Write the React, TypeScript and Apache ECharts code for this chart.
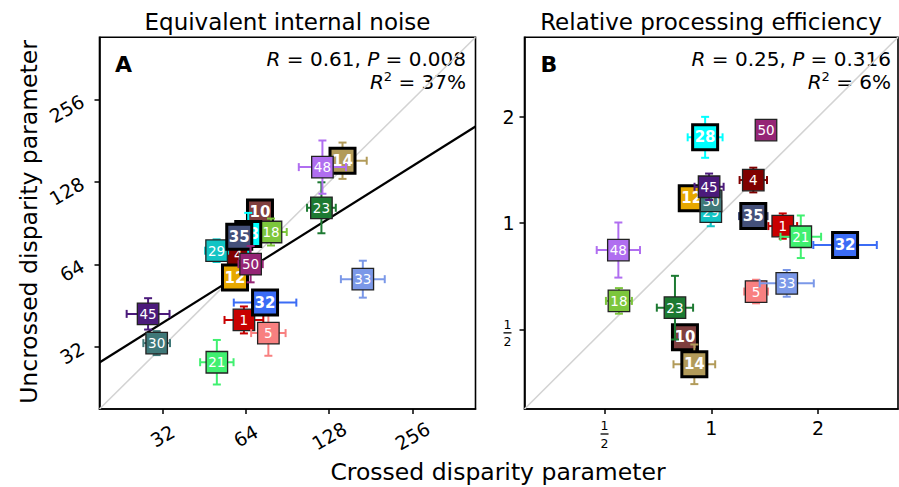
import React, { useEffect, useRef } from 'react';
import * as echarts from 'echarts';

const FONT = 'DejaVu Sans';

// Subjects (labels), colours and which ones are drawn bold/large
const subjects = [1, 4, 5, 10, 12, 14, 18, 21, 23, 28, 29, 30, 32, 33, 35, 45, 48, 50];
const boldSubjects = [10, 12, 14, 28, 32, 35];
const colors = [
  '#c80000', '#800000', '#f88080', '#7f3f3f', '#e6a800', '#b29b5a',
  '#7cc63c', '#40f070', '#1d7a32', '#00ffff', '#12c4c4', '#3f7878',
  '#3b6cf5', '#7b98e8', '#44507a', '#4b1a7b', '#b06ef0', '#952575',
];

// Panel A: equivalent internal noise (crossed = x, uncrossed = y)
const noiseX = [63.0, 60.1, 77.2, 72.0, 58.5, 143, 78.9, 50.3, 120, 65.3, 50.2, 30.5, 75.1, 169.3, 60.6, 28.4, 121, 66.6];
const noiseY = [40.1, 69.3, 35.9, 99, 57.3, 153, 84, 28.1, 103, 82.7, 71.8, 33.0, 46.4, 56.5, 80.8, 42.2, 145, 64.1];
// multiplicative (geometric) error factors
const noiseXErr = [1.175, 1.1, 1.154, 1.1, 1.1, 1.223, 1.14, 1.149, 1.127, 1.1, 1.1, 1.117, 1.297, 1.2, 1.1, 1.195, 1.217, 1.106];
const noiseYErr = [1.12, 1.1, 1.21, 1.1, 1.1, 1.165, 1.12, 1.206, 1.239, 1.193, 1.1, 1.106, 1.1, 1.168, 1.1, 1.141, 1.251, 1.165];

// Panel B: relative processing efficiency
const effX = [1.591, 1.314, 1.338, 0.843, 0.881, 0.896, 0.549, 1.789, 0.79, 0.961, 0.997, 0.999, 2.385, 1.633, 1.314, 0.986, 0.547, 1.427];
const effY = [0.981, 1.325, 0.64, 0.475, 1.176, 0.398, 0.602, 0.915, 0.576, 1.751, 1.078, 1.156, 0.867, 0.675, 1.047, 1.268, 0.839, 1.836];
const effXErr = [1.098, 1.093, 1.08, 1.06, 1.06, 1.145, 1.088, 1.141, 1.125, 1.12, 1.06, 1.06, 1.229, 1.192, 1.097, 1.099, 1.151, 1.04];
const effYErr = [1.086, 1.084, 1.08, 1.06, 1.06, 1.138, 1.087, 1.149, 1.231, 1.143, 1.1, 1.06, 1.06, 1.091, 1.06, 1.09, 1.197, 1.04];

// Axis ranges (log2 units) and ticks
const noiseRange = [4.245, 8.755];
const effRange = [-1.75, 1.75];
const noiseTicks = [32, 64, 128, 256];
const effTicks = [0.5, 1, 2];

// Regression line of panel A in log2 space: log2(y) = a + b*log2(x)
const regIntercept = 2.113;
const regSlope = 0.635;

const statsA = { r: '0.61', p: '0.008', r2: '37%' };
const statsB = { r: '0.25', p: '0.316', r2: '6%' };

function pointSeries(idx: number, xs: number[], ys: number[], xe: number[], ye: number[]) {
  return {
    type: 'custom',
    xAxisIndex: idx,
    yAxisIndex: idx,
    z: 3,
    clip: false,
    silent: true,
    data: subjects.map((s, i) => [Math.log2(xs[i]), Math.log2(ys[i]), Math.log2(xe[i]), Math.log2(ye[i]), i]),
    renderItem: (params: any, api: any) => {
      const vx = api.value(0);
      const vy = api.value(1);
      const ex = api.value(2);
      const ey = api.value(3);
      const i = api.value(4);
      const c = api.coord([vx, vy]);
      const l = api.coord([vx - ex, vy])[0];
      const r = api.coord([vx + ex, vy])[0];
      const t = api.coord([vx, vy + ey])[1];
      const b = api.coord([vx, vy - ey])[1];
      const col = colors[i];
      const big = boldSubjects.includes(subjects[i]);
      const cap = 4;
      const ln = (x1: number, y1: number, x2: number, y2: number) => ({
        type: 'line',
        shape: { x1, y1, x2, y2 },
        style: { stroke: col, lineWidth: 2 },
      });
      const s = big ? 25 : 21.5;
      return {
        type: 'group',
        children: [
          ln(l, c[1], r, c[1]),
          ln(c[0], t, c[0], b),
          ln(l, c[1] - cap, l, c[1] + cap),
          ln(r, c[1] - cap, r, c[1] + cap),
          ln(c[0] - cap, t, c[0] + cap, t),
          ln(c[0] - cap, b, c[0] + cap, b),
          {
            type: 'rect',
            shape: { x: c[0] - s / 2, y: c[1] - s / 2, width: s, height: s },
            style: { fill: col, stroke: big ? '#000' : '#222', lineWidth: big ? 3 : 1.3 },
          },
          {
            type: 'text',
            style: {
              text: String(subjects[i]),
              x: c[0],
              y: c[1],
              fill: '#fff',
              align: 'center',
              verticalAlign: 'middle',
              fontSize: big ? 15 : 13.5,
              fontWeight: big ? 'bold' : 'normal',
              fontFamily: FONT,
            },
          },
        ],
      };
    },
  };
}

const isHalf = (v: number) => Math.abs(Math.pow(2, v) - 0.5) < 1e-6;
const effLabel = (v: number) => (isHalf(v) ? '' : String(Math.round(Math.pow(2, v))));

function fraction(id: string, cx: number, cy: number) {
  const st = { fontSize: 12.5, fontFamily: FONT, fill: '#000', align: 'center', verticalAlign: 'middle' };
  return [
    { type: 'text', id: id + 'n', x: cx, y: cy - 8.5, style: { ...st, text: '1' } },
    { type: 'line', id: id + 'b', shape: { x1: cx - 4, y1: cy, x2: cx + 4, y2: cy }, style: { stroke: '#000', lineWidth: 1.3 } },
    { type: 'text', id: id + 'd', x: cx, y: cy + 9, style: { ...st, text: '2' } },
  ];
}

export default function App() {
  const ref = useRef<HTMLDivElement>(null);
  useEffect(() => {
    const chart = echarts.init(ref.current!, null, { renderer: 'svg' });
    const tickStyle = { show: true, length: 5, lineStyle: { color: '#000', width: 1.5 } };
    const noiseVals = noiseTicks.map((t) => Math.log2(t));
    const effVals = effTicks.map((t) => Math.log2(t));
    const baseAxis = {
      type: 'value',
      splitLine: { show: false },
      axisLine: { show: true, onZero: false, lineStyle: { color: '#000', width: 1.6 } },
    };
    const labelBase = { fontSize: 19, color: '#000', fontFamily: FONT };
    const graphics: any[] = [
      { type: 'text', x: 287.5, y: 21.5, style: { text: 'Equivalent internal noise', align: 'center', verticalAlign: 'middle', fontSize: 23, fontFamily: FONT, fill: '#000' } },
      { type: 'text', x: 711, y: 21.5, style: { text: 'Relative processing efficiency', align: 'center', verticalAlign: 'middle', fontSize: 23, fontFamily: FONT, fill: '#000' } },
      { type: 'text', x: 115, y: 64, style: { text: 'A', align: 'left', verticalAlign: 'middle', fontSize: 22, fontWeight: 'bold', fontFamily: FONT, fill: '#000' } },
      { type: 'text', x: 540.5, y: 64, style: { text: 'B', align: 'left', verticalAlign: 'middle', fontSize: 22, fontWeight: 'bold', fontFamily: FONT, fill: '#000' } },
      ...[
        { s: statsA, x: 466 },
        { s: statsB, x: 891 },
      ].flatMap(({ s, x }) => [
        {
          type: 'text', x, y: 58.5,
          style: {
            text: `{i|R} = ${s.r}, {i|P} = ${s.p}`,
            align: 'right', verticalAlign: 'middle', fontSize: 20, fontFamily: FONT, fill: '#000',
            rich: { i: { fontStyle: 'italic', fontSize: 20, fontFamily: FONT } },
          },
        },
        {
          type: 'text', x, y: 82,
          style: {
            text: `{i|R}{s|2} = ${s.r2}`,
            align: 'right', verticalAlign: 'middle', fontSize: 20, fontFamily: FONT, fill: '#000',
            rich: {
              i: { fontStyle: 'italic', fontSize: 20, fontFamily: FONT, lineHeight: 24 },
              s: { fontSize: 13, fontFamily: FONT, verticalAlign: 'top', lineHeight: 24 },
            },
          },
        },
      ]),
      { type: 'text', x: 29, y: 222, rotation: Math.PI / 2, style: { text: 'Uncrossed disparity parameter', align: 'center', verticalAlign: 'middle', fontSize: 23.5, fontFamily: FONT, fill: '#000' } },
      { type: 'text', x: 498, y: 472, style: { text: 'Crossed disparity parameter', align: 'center', verticalAlign: 'middle', fontSize: 23.5, fontFamily: FONT, fill: '#000' } },
    ];
    const option: any = {
      animation: false,
      backgroundColor: '#fff',
      grid: [
        { left: 99.5, top: 37.3, width: 376, height: 371.7, show: true, borderColor: '#000', borderWidth: 1.6, backgroundColor: 'transparent', outerBoundsMode: 'none' },
        { left: 524.5, top: 37.3, width: 373.5, height: 371.7, show: true, borderColor: '#000', borderWidth: 1.6, backgroundColor: 'transparent', outerBoundsMode: 'none' },
      ],
      xAxis: [
        {
          ...baseAxis,
          gridIndex: 0,
          min: noiseRange[0],
          max: noiseRange[1],
          axisTick: { ...tickStyle, customValues: noiseVals },
          axisLabel: {
            ...labelBase,
            customValues: noiseVals,
            formatter: (v: number) => String(Math.round(Math.pow(2, v))),
            rotate: 30,
            align: 'center',
            verticalAlign: 'middle',
            margin: 27,
          },
        },
        {
          ...baseAxis,
          gridIndex: 1,
          min: effRange[0],
          max: effRange[1],
          axisTick: { ...tickStyle, customValues: effVals },
          axisLabel: { ...labelBase, customValues: effVals, formatter: effLabel, margin: 9 },
        },
      ],
      yAxis: [
        {
          ...baseAxis,
          gridIndex: 0,
          min: noiseRange[0],
          max: noiseRange[1],
          axisTick: { ...tickStyle, customValues: noiseVals },
          axisLabel: {
            ...labelBase,
            customValues: noiseVals,
            formatter: (v: number) => String(Math.round(Math.pow(2, v))),
            rotate: 30,
            align: 'right',
            verticalAlign: 'middle',
            margin: 17,
          },
        },
        {
          ...baseAxis,
          gridIndex: 1,
          min: effRange[0],
          max: effRange[1],
          axisTick: { ...tickStyle, customValues: effVals },
          axisLabel: { ...labelBase, customValues: effVals, formatter: effLabel, margin: 10 },
        },
      ],
      series: [
        {
          type: 'line', xAxisIndex: 0, yAxisIndex: 0, z: 1, silent: true, symbol: 'none',
          lineStyle: { color: '#d3d3d3', width: 1.6 },
          data: [[noiseRange[0], noiseRange[0]], [noiseRange[1], noiseRange[1]]],
        },
        {
          type: 'line', xAxisIndex: 1, yAxisIndex: 1, z: 1, silent: true, symbol: 'none',
          lineStyle: { color: '#d3d3d3', width: 1.6 },
          data: [[effRange[0], effRange[0]], [effRange[1], effRange[1]]],
        },
        {
          type: 'line', xAxisIndex: 0, yAxisIndex: 0, z: 2, silent: true, symbol: 'none',
          lineStyle: { color: '#000', width: 2.2 },
          data: noiseRange.map((x) => [x, regIntercept + regSlope * x]),
        },
        pointSeries(0, noiseX, noiseY, noiseXErr, noiseYErr),
        pointSeries(1, effX, effY, effXErr, effYErr),
      ],
      graphic: graphics,
    };
    chart.setOption(option);
    // stacked "1/2" fraction tick labels placed at the axis' own pixel positions
    const half = Math.log2(0.5);
    const fx = chart.convertToPixel({ xAxisIndex: 1 }, half) as number;
    const axisBottom = chart.convertToPixel({ yAxisIndex: 1 }, effRange[0]) as number;
    const fy = chart.convertToPixel({ yAxisIndex: 1 }, half) as number;
    const axisLeft = chart.convertToPixel({ xAxisIndex: 1 }, effRange[0]) as number;
    chart.setOption({
      graphic: [
        ...graphics,
        ...fraction('fx', fx, axisBottom + 25),
        ...fraction('fy', axisLeft - 17, fy + 3.5),
      ],
    });
    return () => chart.dispose();
  }, []);
  return <div ref={ref} style={{ position: 'absolute', left: 0, top: 0, width: 899, height: 487 }} />;
}
